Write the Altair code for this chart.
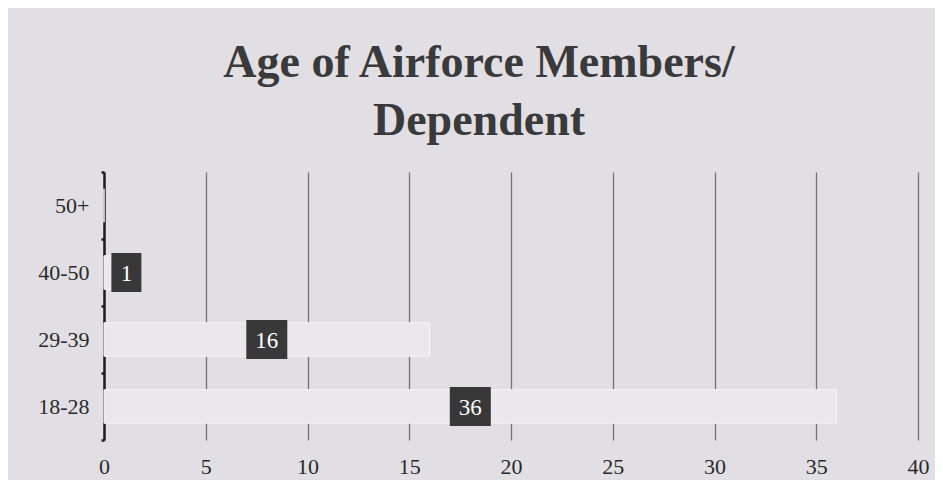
import altair as alt
import pandas as pd

categories = ["50+", "40-50", "29-39", "18-28"]
values = [0, 1, 16, 36]
x_ticks = [0, 5, 10, 15, 20, 25, 30, 35, 40]

df = pd.DataFrame({"age": categories, "count": values})
df["txt"] = df["count"].astype(str)
df["pos"] = [max(v / 2, 1.1) for v in values]
lab = df[df["count"] > 0]

SERIF = "Liberation Serif"

x_scale = alt.Scale(domain=[0, 40], nice=False)
y_scale = alt.Scale(domain=categories, paddingInner=0, paddingOuter=0)

bars = alt.Chart(df).mark_bar(
    height=alt.RelativeBandSize(0.5), color="#eae8ed", stroke="#f4f3f6", strokeWidth=1
).encode(
    x=alt.X("count:Q", scale=x_scale,
            axis=alt.Axis(values=x_ticks, title=None, domain=False, ticks=False, grid=True,
                          gridColor="#727272", gridWidth=1.3, labelFont=SERIF, labelFontSize=22,
                          labelColor="#2a2a2a", labelPadding=16, labelFlush=False)),
    y=alt.Y("age:N", scale=y_scale, sort=categories,
            axis=alt.Axis(title=None, domainColor="#1e1e1e", domainWidth=2.5, tickColor="#1e1e1e",
                          tickSize=3, tickWidth=2.5, tickBand="extent", labelFont=SERIF,
                          labelFontSize=22, labelColor="#2a2a2a", labelPadding=12, grid=False)),
)

boxes = alt.Chart(lab).mark_rect(
    width=alt.ExprRef("length(datum.txt) > 1 ? 41 : 30"), height=39, color="#383838"
).encode(
    x=alt.X("pos:Q", scale=x_scale),
    y=alt.Y("age:N", scale=y_scale, sort=categories),
)

texts = alt.Chart(lab).mark_text(
    font=SERIF, fontSize=23, color="#ffffff", align="center", baseline="middle", dy=1
).encode(
    x=alt.X("pos:Q", scale=x_scale),
    y=alt.Y("age:N", scale=y_scale, sort=categories),
    text="txt:N",
)

chart = alt.layer(bars, boxes, texts).properties(
    width=814, height=268,
    title=alt.TitleParams(
        text=["Age of Airforce Members/", "Dependent"],
        font=SERIF, fontSize=46, fontWeight="bold", color="#3a3a3a",
        lineHeight=58, anchor="middle", dx=-32, offset=16,
    ),
    background="#e1dfe4",
    padding={"left": 96, "top": 164, "right": 17, "bottom": 40},
    autosize=alt.AutoSizeParams(type="none"),
).configure_view(stroke=None)

chart.save("out.html", embed_options={"renderer": "svg", "actions": False})
